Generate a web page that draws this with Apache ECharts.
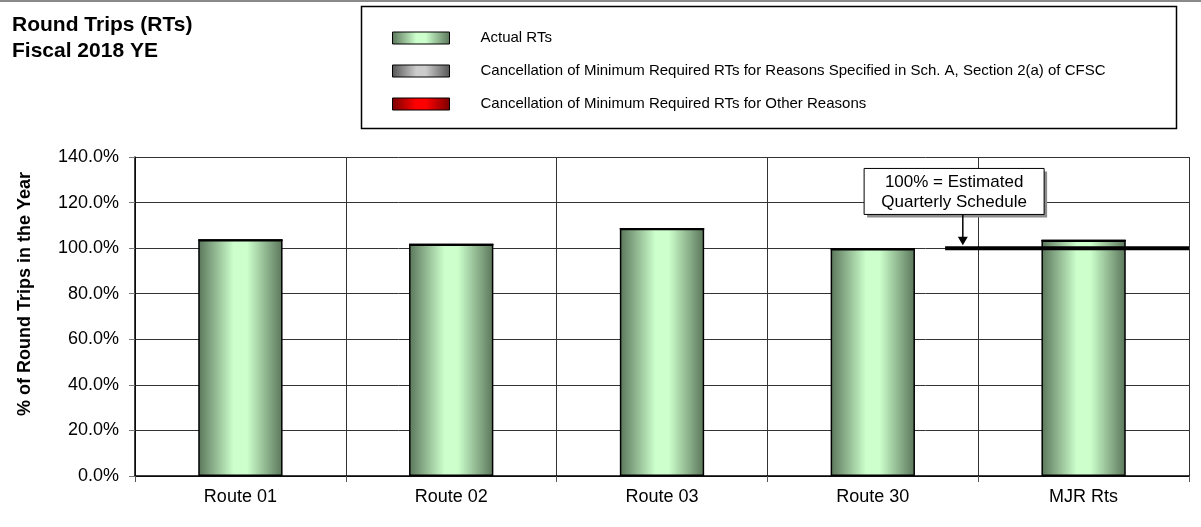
<!DOCTYPE html>
<html>
<head>
<meta charset="utf-8">
<script src="https://cdn.jsdelivr.net/npm/echarts@6/dist/echarts.min.js"></script>
<style>
  html, body { margin: 0; padding: 0; background: #fff; }
  #chart { width: 1201px; height: 527px; }
</style>
</head>
<body>
<div id="chart"></div>
<script>
// Round trips operated as a share of the estimated schedule, fiscal 2018 year end
const categories = ['Route 01', 'Route 02', 'Route 03', 'Route 30', 'MJR Rts'];
const actualRTs = [103.6, 101.6, 108.5, 99.6, 103.3];
const cancelledSchA = [0, 0, 0, 0, 0];
const cancelledOther = [0, 0, 0, 0, 0];
const yTicks = { min: 0, max: 140, step: 20 };
// Reference line at the 100% schedule level, on a 0..5 category-position scale
const scheduleLine = [[3.843, 100], [5, 100]];
const calloutAnchor = [3.927, 100];
const calloutLines = ['100% = Estimated', 'Quarterly Schedule'];
const seriesNames = [
  'Actual RTs',
  'Cancellation of Minimum Required RTs for Reasons Specified in Sch. A, Section 2(a) of CFSC',
  'Cancellation of Minimum Required RTs for Other Reasons'
];

const FONT = '"Liberation Sans", Arial, Helvetica, sans-serif';

function barGradient(edge, mid) {
  return new echarts.graphic.LinearGradient(0, 0, 1, 0, [
    { offset: 0, color: edge },
    { offset: 0.42, color: mid },
    { offset: 0.58, color: mid },
    { offset: 1, color: edge }
  ]);
}

const chart = echarts.init(document.getElementById('chart'), null, { renderer: 'canvas' });

const barBorder = { borderColor: '#000', borderWidth: 1.5 };

const staticGraphics = [
  { id: 'topRule', type: 'rect', shape: { x: 0, y: 0, width: 1201, height: 2 }, style: { fill: '#8a8a8a' } },
  {
    id: 'title', type: 'text', x: 12, y: 12,
    style: {
      text: 'Round Trips (RTs)\nFiscal 2018 YE',
      font: 'bold 21px ' + FONT, lineHeight: 26, fill: '#000',
      textVerticalAlign: 'top'
    }
  },
  {
    id: 'legendBox', type: 'rect',
    shape: { x: 361.5, y: 6.5, width: 815, height: 122 },
    style: { fill: 'rgba(255,255,255,0)', stroke: '#000', lineWidth: 1.5 }
  },
  {
    id: 'yName', type: 'text', x: 25.5, y: 294, rotation: Math.PI / 2,
    style: {
      text: '% of Round Trips in the Year',
      font: 'bold 18px ' + FONT, fill: '#000',
      textAlign: 'center', textVerticalAlign: 'middle'
    }
  }
];

chart.setOption({
  animation: false,
  backgroundColor: '#fff',
  textStyle: { fontFamily: FONT },
  grid: { left: 135, right: 12, top: 157, bottom: 51, containLabel: false },
  legend: {
    orient: 'vertical',
    left: 387,
    top: 19,
    itemWidth: 57,
    itemHeight: 12,
    itemGap: 5,
    icon: 'rect',
    selectedMode: false,
    data: seriesNames,
    itemStyle: { borderColor: '#000', borderWidth: 1 },
    textStyle: {
      fontFamily: FONT, fontSize: 15, color: '#000',
      lineHeight: 16, padding: [12, 0, 0, 26]
    }
  },
  xAxis: [
    {
      type: 'category',
      data: categories,
      boundaryGap: true,
      axisLine: { lineStyle: { color: '#000', width: 1.5 } },
      axisTick: { show: true, length: 6, lineStyle: { color: '#555' } },
      axisLabel: { fontFamily: FONT, fontSize: 18, color: '#000', margin: 12 },
      splitLine: { show: true, lineStyle: { color: '#333', width: 1 } }
    },
    {
      type: 'value', min: 0, max: 5, show: false
    }
  ],
  yAxis: {
    type: 'value',
    min: yTicks.min,
    max: yTicks.max,
    interval: yTicks.step,
    axisLine: { show: true, lineStyle: { color: '#000', width: 1.5 } },
    axisTick: { show: true, length: 6, lineStyle: { color: '#777' } },
    axisLabel: {
      fontFamily: FONT, fontSize: 18, color: '#000', margin: 16,
      formatter: v => v.toFixed(1) + '%'
    },
    splitLine: { show: true, lineStyle: { color: '#333', width: 1 } }
  },
  series: [
    {
      name: seriesNames[0], type: 'bar', stack: 'rt', data: actualRTs,
      barWidth: '40%',
      itemStyle: Object.assign({ color: barGradient('#5a755a', '#ccffcc') }, barBorder)
    },
    {
      name: seriesNames[1], type: 'bar', stack: 'rt', data: cancelledSchA,
      itemStyle: Object.assign({ color: barGradient('#555555', '#cccccc') }, barBorder)
    },
    {
      name: seriesNames[2], type: 'bar', stack: 'rt', data: cancelledOther,
      itemStyle: Object.assign({ color: barGradient('#7a0000', '#ff0000') }, barBorder)
    },
    {
      name: 'schedule', type: 'line', xAxisIndex: 1, data: scheduleLine,
      symbol: 'none', silent: true, z: 10,
      lineStyle: { color: '#000', width: 4 }
    }
  ],
  graphic: staticGraphics
});

// Callout pointing at the 100% schedule line
const tip = chart.convertToPixel({ xAxisIndex: 1, yAxisIndex: 0 }, calloutAnchor);
const tipX = tip[0];
const tipY = tip[1] - 3;
const boxL = tipX - 98.7, boxT = tipY - 76.7, boxW = 180, boxH = 46;
const calloutText = (id, text, dy) => ({
  id, type: 'text', x: boxL + boxW / 2, y: boxT + dy, z: 22,
  style: { text, font: '17px ' + FONT, fill: '#000', textAlign: 'center', textVerticalAlign: 'middle' }
});
chart.setOption({
  graphic: staticGraphics.concat([
    { id: 'calloutShadow', type: 'rect', z: 20, shape: { x: boxL + 3, y: boxT + 3, width: boxW, height: boxH }, style: { fill: '#8c8c8c' } },
    { id: 'calloutBox', type: 'rect', z: 21, shape: { x: boxL, y: boxT, width: boxW, height: boxH }, style: { fill: '#fff', stroke: '#000', lineWidth: 1 } },
    calloutText('calloutL1', calloutLines[0], 13.4),
    calloutText('calloutL2', calloutLines[1], 33.4),
    { id: 'calloutStem', type: 'line', z: 21, shape: { x1: tipX, y1: boxT + boxH, x2: tipX, y2: tipY - 8 }, style: { stroke: '#000', lineWidth: 1.5 } },
    { id: 'calloutHead', type: 'polygon', z: 21, shape: { points: [[tipX - 5, tipY - 8.5], [tipX + 5, tipY - 8.5], [tipX, tipY]] }, style: { fill: '#000' } }
  ])
});
</script>
</body>
</html>
